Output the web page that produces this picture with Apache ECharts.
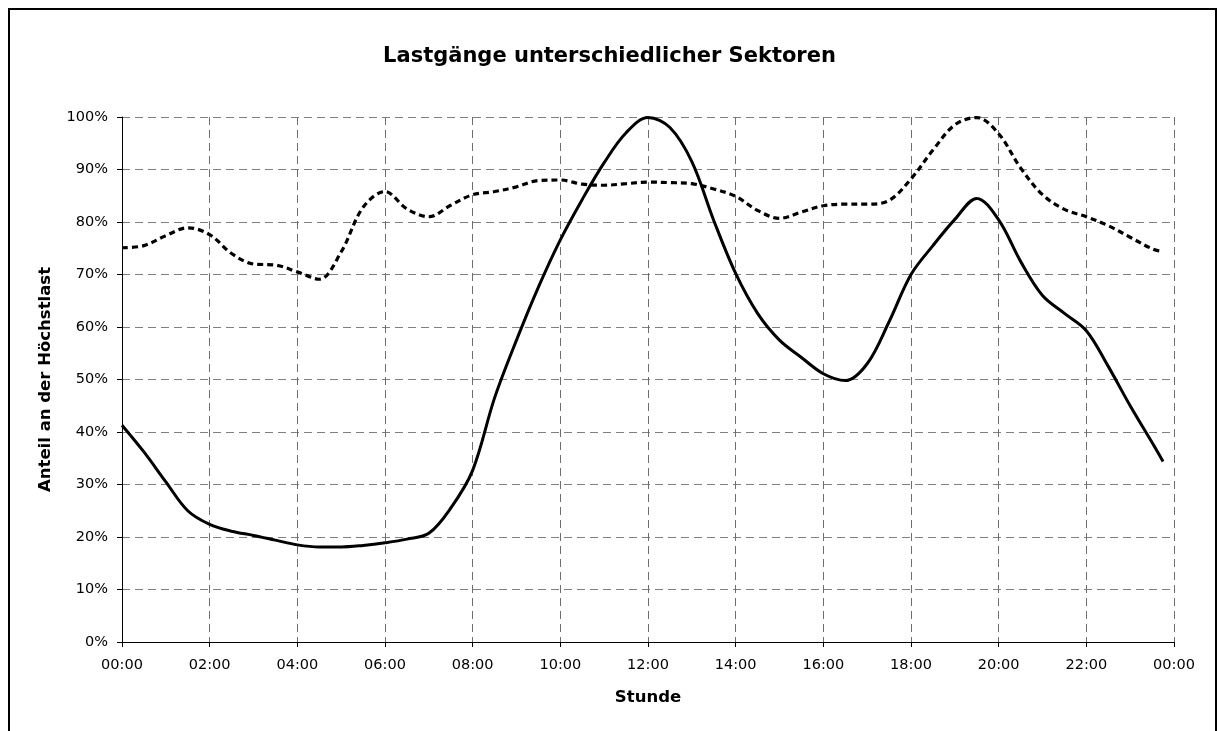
<!DOCTYPE html>
<html>
<head>
<meta charset="utf-8">
<script src="https://cdn.jsdelivr.net/npm/echarts@6/dist/echarts.min.js"></script>
<style>
  html, body { margin: 0; padding: 0; background: #fff; }
  #chart { width: 1219px; height: 731px; }
</style>
</head>
<body>
<div id="chart"></div>
<script>
// Stunden (x) – halbstündlich, letzter Punkt 23:45
const hours = [0, 0.5, 1, 1.5, 2, 2.5, 3, 3.5, 4, 4.5, 5, 5.5, 6, 6.5, 7, 7.5, 8, 8.5, 9, 9.5,
  10, 10.5, 11, 11.5, 12, 12.5, 13, 13.5, 14, 14.5, 15, 15.5, 16, 16.5, 17, 17.5, 18, 18.5, 19, 19.5,
  20, 20.5, 21, 21.5, 22, 22.5, 23, 23.5, 23.75]

// Anteil an der Höchstlast in %
const solidValues = [41.3, 36.2, 30.5, 25.0, 22.4, 21.1, 20.3, 19.4, 18.5, 18.1, 18.1, 18.4, 18.9, 19.6, 20.7, 25.5, 32.7, 46.5, 57.5, 67.6,
  76.6, 84.3, 91.3, 97.0, 99.9, 98.0, 91.5, 80.3, 70.2, 62.6, 57.5, 54.2, 51.1, 49.8, 53.0, 61.0, 70.0, 75.5, 80.5, 84.5,
  80.4, 72.5, 66.0, 62.6, 59.3, 52.5, 45.0, 38.0, 34.4]

const dashedValues = [75.1, 75.5, 77.4, 78.9, 77.6, 74.0, 72.0, 71.8, 70.5, 69.1, 74.3, 82.8, 85.8, 82.5, 81.0, 83.2, 85.2, 85.8, 86.7, 87.9,
  88.0, 87.2, 87.0, 87.3, 87.6, 87.5, 87.3, 86.3, 84.9, 82.2, 80.7, 81.9, 83.1, 83.4, 83.4, 84.1, 88.2, 93.7, 98.5, 99.9,
  96.8, 90.3, 85.2, 82.4, 81.0, 79.3, 77.1, 74.9, 74.3]

const fontFam = '"DejaVu Sans", "Open Sans", sans-serif'

const chart = echarts.init(document.getElementById('chart'))

const pair = (xs, ys) => xs.map((x, i) => [x, ys[i]])

chart.setOption({
  animation: false,
  backgroundColor: '#fff',
  title: {
    text: 'Lastgänge unterschiedlicher Sektoren',
    left: 'center',
    top: 41,
    textStyle: { fontFamily: fontFam, fontSize: 21, fontWeight: 'bold', color: '#000' }
  },
  grid: { left: 122, right: 45, top: 117, bottom: 89 },
  xAxis: {
    type: 'value',
    min: 0,
    max: 24,
    interval: 2,
    name: 'Stunde',
    nameLocation: 'middle',
    nameGap: 47,
    nameTextStyle: { fontFamily: fontFam, fontSize: 16.5, fontWeight: 'bold', color: '#000' },
    axisLine: { show: true, lineStyle: { color: '#000', width: 1 } },
    axisTick: { show: true, length: 5, lineStyle: { color: '#000' } },
    axisLabel: {
      fontFamily: fontFam, fontSize: 14.5, color: '#000', margin: 16,
      formatter: v => String(v % 24).padStart(2, '0') + ':00'
    },
    splitLine: { show: true, lineStyle: { color: '#6e6e6e', width: 1, type: [8, 5] } }
  },
  yAxis: {
    type: 'value',
    min: 0,
    max: 100,
    interval: 10,
    name: 'Anteil an der Höchstlast',
    nameLocation: 'middle',
    nameGap: 68,
    nameTextStyle: { fontFamily: fontFam, fontSize: 16.5, fontWeight: 'bold', color: '#000' },
    axisLine: { show: true, lineStyle: { color: '#000', width: 1 } },
    axisTick: { show: true, length: 5, lineStyle: { color: '#000' } },
    axisLabel: { fontFamily: fontFam, fontSize: 14.5, color: '#000', margin: 14, formatter: '{value}%' },
    splitLine: { show: true, lineStyle: { color: '#808080', width: 1, type: [8, 5] } }
  },
  graphic: [{
    type: 'rect',
    shape: { x: 9, y: 9, width: 1207, height: 740 },
    style: { fill: 'none', stroke: '#000', lineWidth: 2 },
    silent: true
  }],
  series: [
    {
      name: 'Sektor A',
      type: 'line',
      data: pair(hours, solidValues),
      smooth: 0.35,
      showSymbol: false,
      lineStyle: { color: '#000', width: 3 }
    },
    {
      name: 'Sektor B',
      type: 'line',
      data: pair(hours, dashedValues),
      smooth: 0.35,
      showSymbol: false,
      lineStyle: { color: '#000', width: 3.2, type: [6, 4] }
    }
  ]
})
</script>
</body>
</html>
